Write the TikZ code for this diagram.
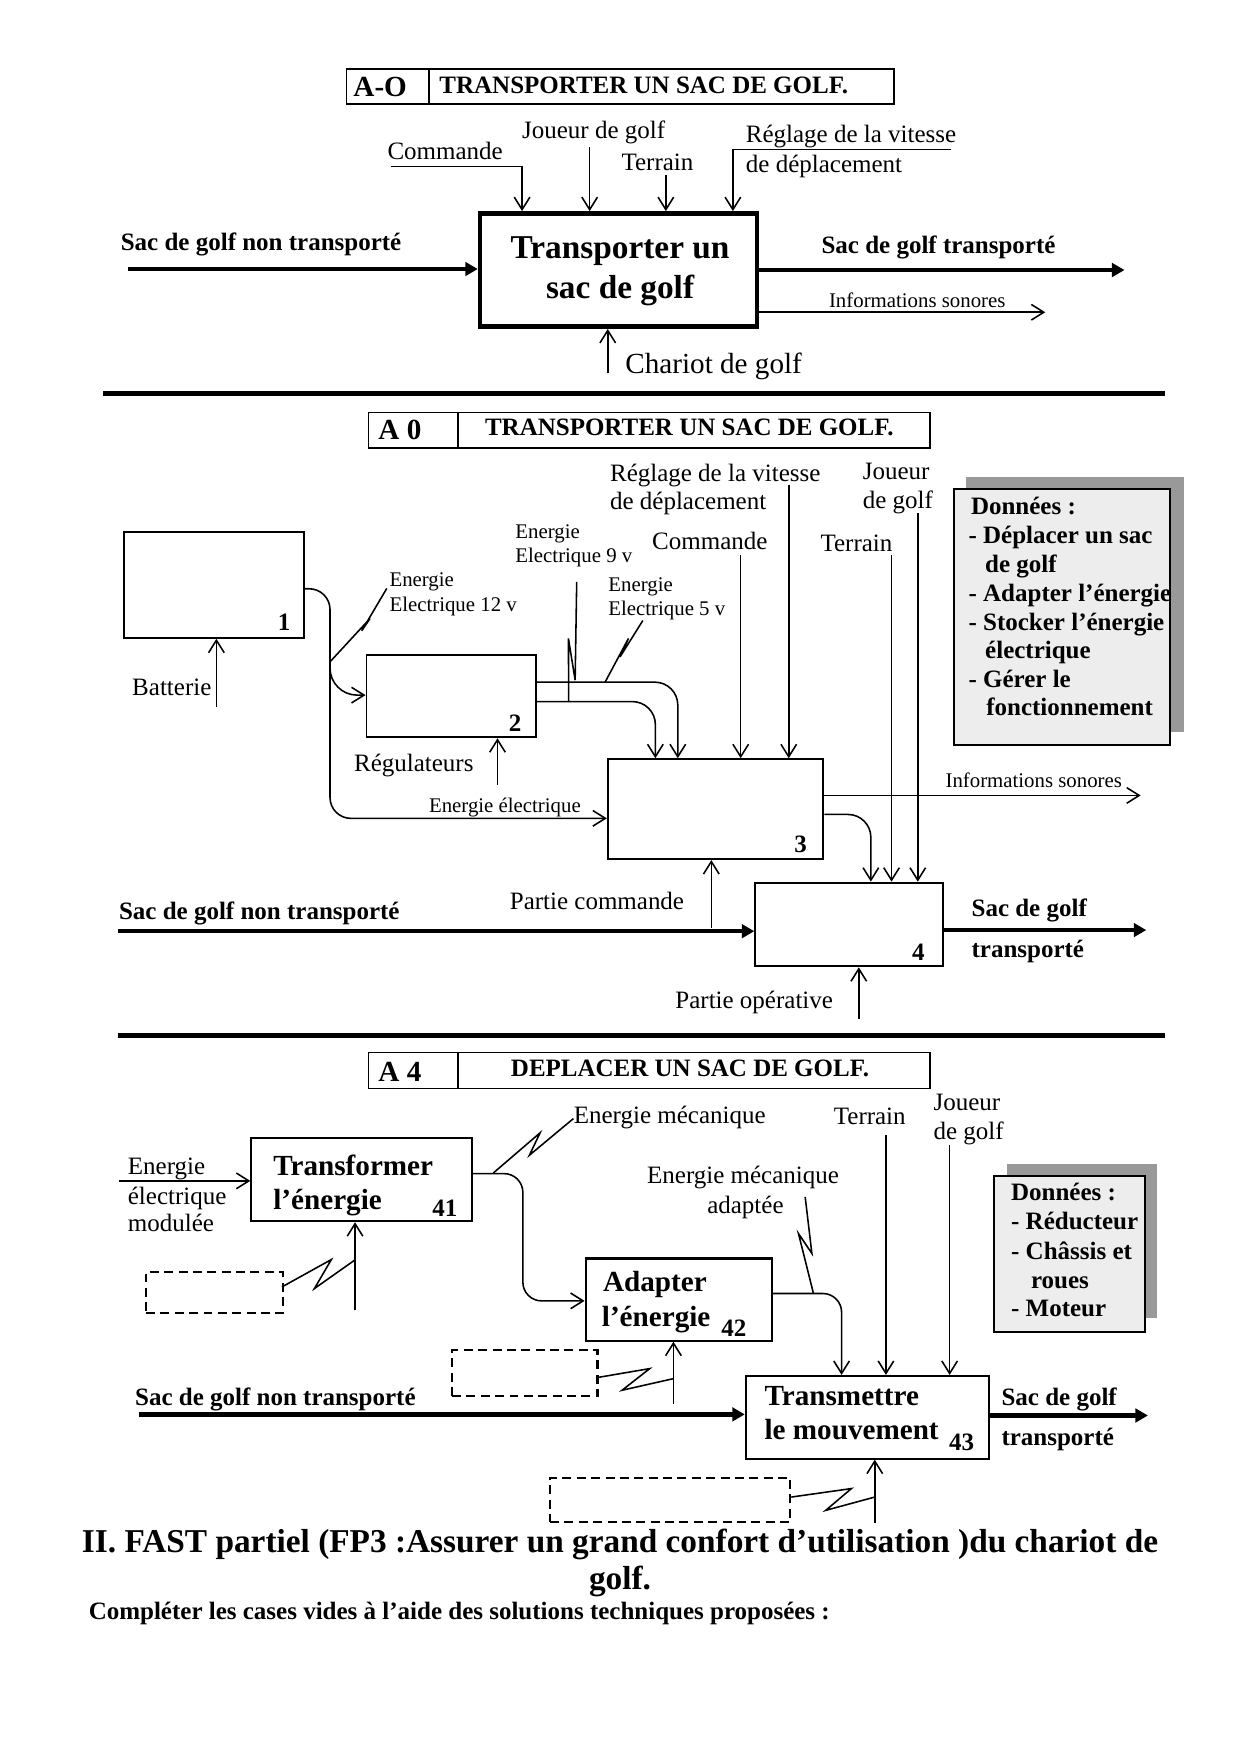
\documentclass[tikz,border=0pt]{standalone}
\usepackage{fontspec}
\setmainfont{Liberation Serif}
\usetikzlibrary{arrows.meta,fit,calc}
\begin{document}
\begin{tikzpicture}[x=0.5364pt,y=-0.5364pt,
 ln/.style={line width=0.75pt},
 arr/.style={line width=0.75pt,-{Straight Barb[length=6pt,width=7.5pt]}},
 big/.style={line width=2.2pt,-{Triangle[length=6pt,width=6.5pt]}},
 t12/.style={inner sep=0pt,anchor=base west,font=\fontsize{12}{13.6}\selectfont},
 b12/.style={t12,font=\fontsize{12}{13.6}\selectfont\bfseries},
 t10/.style={t12,font=\fontsize{10}{12}\selectfont},
 t14/.style={t12,font=\fontsize{14}{16}\selectfont},
 b14/.style={t12,font=\fontsize{14}{16}\selectfont\bfseries},
 b16/.style={t12,font=\fontsize{16}{18}\selectfont\bfseries},
 blk/.style={draw,line width=0.9pt,inner sep=0pt},
 blkb/.style={draw,line width=1pt,inner sep=0pt},
 cell/.style={draw,line width=0.75pt,inner sep=0pt},
 dbox/.style={draw,line width=1pt,dash pattern=on 4.3pt off 2.6pt,inner sep=0pt},
 hrule/.style={line width=2.3pt},
 donnees/.style={draw,line width=0.9pt,fill=black!7,inner sep=0pt}
]
\useasboundingbox (0,0) rectangle (1110,1570);

% ================= A-O =================
\node[cell, fit={(310,62) (384,93.1)}] (aoA) {};
\node[cell, fit={(384,62) (800.3,93.1)}] (aoB) {};
\node[b14] (aoAt) at (316,86.5) {A-O};
\node[b12] (aoBt) at (393,83.6) {TRANSPORTER UN SAC DE GOLF.};

\node[draw,line width=2.2pt,inner sep=0pt,fit={(429.7,191) (677.7,292.4)}] (ao) {};
\node[b16,anchor=base] (aoT1) at (555,231.5) {Transporter un};
\node[b16,anchor=base] (aoT2) at (555,267) {sac de golf};

\node[t12] (aoCmd) at (346.5,142.6) {Commande};
\coordinate (cmdS) at (349.8,149.2); \coordinate (cmdC) at (467.3,149.2);
\draw[arr] (cmdS) -- (cmdC) -- (cmdC |- ao.north);
\node[t12] (aoJo) at (467,123.8) {Joueur de golf};
\coordinate (joS) at (527.8,131.9); \draw[arr] (joS) -- (joS |- ao.north);
\node[t12] (aoTe) at (556,152.6) {Terrain};
\coordinate (teS) at (596,156.7); \draw[arr] (teS) -- (teS |- ao.north);
\node[t12] (aoRe1) at (667.3,127.9) {Réglage de la vitesse};
\node[t12] (aoRe2) at (667.3,154.2) {de déplacement};
\coordinate (reS) at (851.6,133.7); \coordinate (reC) at (656,133.7);
\draw[arr] (reS) -- (reC) -- (reC |- ao.north);

\node[b12] (aoInT) at (107.8,223.8) {Sac de golf non transporté};
\coordinate (aoIn) at (114.7,240.8); \draw[big] (aoIn) -- (aoIn -| ao.west);
\node[b12] (aoOutT) at (735,227.3) {Sac de golf transporté};
\coordinate (aoOut) at (1006.5,241.7); \draw[big] (aoOut -| ao.east) -- (aoOut);
\node[t10] (aoInfT) at (741.7,275) {Informations sonores};
\coordinate (aoInf) at (935.6,279.5); \draw[arr] (aoInf -| ao.east) -- (aoInf);
\coordinate (chS) at (544,334); \draw[arr] (chS) -- (chS |- ao.south);
\node[t14] (aoCh) at (559.4,334.6) {Chariot de golf};

\coordinate (r1a) at (92.4,352.1); \coordinate (r1b) at (1042.5,352.1);
\draw[hrule] (r1a) -- (r1b);

% ================= A0 =================
\node[cell, fit={(330,369.1) (409.9,400.8)}] (a0A) {};
\node[cell, fit={(409.9,369.1) (832.5,400.8)}] (a0B) {};
\node[b14] (a0At) at (338.4,393.3) {A 0};
\node[b12] (a0Bt) at (433.8,389.4) {TRANSPORTER UN SAC DE GOLF.};

\node[blk, fit={(110.6,476) (272,570.9)}] (b1) {};
\node[b12,anchor=base east] (n1) at (260.2,564.5) {1};
\node[t12] (bat) at (118,622.6) {Batterie};
\coordinate (baS) at (193.7,632.7); \draw[arr] (baS) -- (baS |- b1.south);

\node[blk, fit={(328,586.4) (480,660)}] (b2) {};
\node[b12,anchor=base] (n2) at (461,654.5) {2};
\node[t12] (reg) at (316.6,690.3) {Régulateurs};
\coordinate (rgS) at (445.3,702.8); \draw[arr] (rgS) -- (rgS |- b2.south);

\node[blk, fit={(544,679.5) (737,769)}] (b3) {};
\node[b12,anchor=base] (n3) at (716.6,763.4) {3};
\node[blk, fit={(676,790) (844,865)}] (b4) {};
\node[b12,anchor=base] (n4) at (822,860) {4};

% box 1 outputs
\coordinate (v1) at (295.4,527); \coordinate (b3in) at (540,732.5);
\draw[arr,rounded corners=10pt] (b1.east |- v1) -- (v1) -- (v1 |- b3in) -- (b3in -| b3.west);
\coordinate (brS) at (295.4,590); \coordinate (brC) at (295.4,622.2);
\draw[arr,rounded corners=13pt] (brS) -- (brC) -- (brC -| b2.west);
\node[t10] (eel) at (383.7,727.1) {Energie électrique};

% box 2 outputs
\coordinate (c5) at (606.7,610.6);
\draw[arr,rounded corners=11pt] (c5 -| b2.east) -- (c5) -- (c5 |- b3.north);
\coordinate (c9) at (586.6,628);
\draw[arr,rounded corners=11pt] (c9 -| b2.east) -- (c9) -- (c9 |- b3.north);

% lightning labels
\node[t10] (e12a) at (348.3,525.2) {Energie};
\node[t10] (e12b) at (348.3,547) {Electrique 12 v};
\coordinate (l12s) at (295.4,592.4); \coordinate (l12e) at (346.2,526.7);
\draw[ln] (l12s) -- (331.2,553.6) -- (323.8,564.6) -- (l12e);
\node[t10] (e9a) at (461,482.4) {Energie};
\node[t10] (e9b) at (461,503.3) {Electrique 9 v};
\coordinate (l9s) at (516.2,520.8); \coordinate (l9e) at (509,628);
\draw[ln] (l9s) -- (514.8,608.8) -- (508.8,571.5) -- (l9e);
\node[t10] (e5a) at (544.2,529.2) {Energie};
\node[t10] (e5b) at (544.2,551) {Electrique 5 v};
\coordinate (l5s) at (575.4,555.4); \coordinate (l5e) at (541.6,610.6);
\draw[ln] (l5s) -- (555,588) -- (562.5,571.5) -- (l5e);

% top inputs
\node[t12] (a0re1) at (545.7,430.7) {Réglage de la vitesse};
\node[t12] (a0re2) at (545.7,456.1) {de déplacement};
\coordinate (rgl) at (706,434); \draw[arr] (rgl) -- (rgl |- b3.north);
\node[t12] (a0cm) at (583.4,491.9) {Commande};
\coordinate (cm) at (663,497); \draw[arr] (cm) -- (cm |- b3.north);
\node[t12] (a0te) at (734.1,493.8) {Terrain};
\coordinate (tr) at (798,497); \draw[arr] (tr) -- (tr |- b4.north);
\node[t12] (a0jo1) at (771.9,429.2) {Joueur};
\node[t12] (a0jo2) at (771.9,455.2) {de golf};
\coordinate (jg) at (821.5,459.5); \draw[arr] (jg) -- (jg |- b4.north);

\node[t10] (a0inf) at (846,704.7) {Informations sonores};
\coordinate (inf) at (1021,712); \draw[arr] (inf -| b3.east) -- (inf);
\coordinate (c34) at (779.5,729);
\draw[arr,rounded corners=11pt] (c34 -| b3.east) -- (c34) -- (c34 |- b4.north);

\node[t12] (pcT) at (456,814.3) {Partie commande};
\coordinate (pc) at (636.7,831); \draw[arr] (pc) -- (pc |- b3.south);
\node[b12] (a0inT) at (106.2,823.1) {Sac de golf non transporté};
\coordinate (a0in) at (106,833.5); \draw[big] (a0in) -- (a0in -| b4.west);
\node[b12] (a0o1) at (869.3,820.2) {Sac de golf};
\node[b12] (a0o2) at (869.3,856.9) {transporté};
\coordinate (a0out) at (1026,832.5); \draw[big] (a0out -| b4.east) -- (a0out);
\node[t12] (poT) at (604.2,902.6) {Partie opérative};
\coordinate (po) at (768.7,912.5); \draw[arr] (po) -- (po |- b4.south);

% Donnees A0
\fill[black!40] (865,427) rectangle (1059.6,655);
\node[donnees, fit={(854,438) (1047.5,667)}] (d0) {};
\node[b12] (d0a) at (868.8,460.6) {Données :};
\node[b12] (d0b) at (866.6,486.9) {- Déplacer un sac};
\node[b12] (d0c) at (881.5,512.3) {de golf};
\node[b12] (d0d) at (866.6,538.2) {- Adapter l’énergie};
\node[b12] (d0e) at (866.6,564) {- Stocker l’énergie};
\node[b12] (d0f) at (881.5,589.4) {électrique};
\node[b12] (d0g) at (866.6,615.8) {- Gérer le};
\node[b12] (d0h) at (882.5,640.6) {fonctionnement};

\coordinate (r2a) at (105.2,926.6); \coordinate (r2b) at (1042.5,926.6);
\draw[hrule] (r2a) -- (r2b);

% ================= A4 =================
\node[cell, fit={(330,942.1) (410,974.3)}] (a4A) {};
\node[cell, fit={(410,942.1) (832.5,974.3)}] (a4B) {};
\node[b14] (a4At) at (338.4,968.3) {A 4};
\node[b12] (a4Bt) at (457,963.9) {DEPLACER UN SAC DE GOLF.};

\node[blkb, fit={(225,1019) (422.4,1093.1)}] (b41) {};
\node[b14] (b41a) at (244.3,1051.9) {Transformer};
\node[b14] (b41b) at (244.3,1082.8) {l’énergie};
\node[b12] (b41n) at (386.6,1088.7) {41};

\node[blkb, fit={(524.2,1126.5) (690.6,1200)}] (b42) {};
\node[b14] (b42a) at (539.5,1155.9) {Adapter};
\node[b14] (b42b) at (538.4,1187.1) {l’énergie};
\node[b12] (b42n) at (645.3,1196.2) {42};

\node[blkb, fit={(667.6,1231.6) (885,1305.6)}] (b43) {};
\node[b14] (b43a) at (684,1257.8) {Transmettre};
\node[b14] (b43b) at (684,1288.6) {le mouvement};
\node[b12] (b43n) at (849.2,1298.6) {43};

\node[t12] (eem1) at (114.1,1050.9) {Energie};
\node[t12] (eem2) at (114.1,1077.8) {électrique};
\node[t12] (eem3) at (114.1,1102.2) {modulée};
\coordinate (e41) at (106.5,1057); \draw[arr] (e41) -- (e41 -| b41.west);

\coordinate (c41) at (468,1050.5); \coordinate (c41b) at (468,1164.4);
\draw[arr,rounded corners=9pt] (c41 -| b41.east) -- (c41) -- (c41b) -- (c41b -| b42.west);
\node[t12] (emT) at (513.3,1005.6) {Energie mécanique};
\coordinate (lms) at (441.6,1049.9); \coordinate (lme) at (513.3,1001.2);
\draw[ln] (lms) -- (483.4,1014) -- (473.9,1034) -- (lme);

\node[t12] (emaT1) at (578.9,1058.9) {Energie mécanique};
\node[t12] (emaT2) at (632.7,1085.9) {adaptée};
\coordinate (las) at (720.7,1071.3); \coordinate (lae) at (728.1,1157.8);
\draw[ln] (las) -- (726.7,1122) -- (714.7,1104.1) -- (lae);
\coordinate (c42) at (753.3,1157.8);
\draw[arr,rounded corners=9pt] (c42 -| b42.east) -- (c42) -- (c42 |- b43.north);

\node[t12] (a4te) at (746,1006.2) {Terrain};
\coordinate (t4) at (793,1016); \draw[arr] (t4) -- (t4 |- b43.north);
\node[t12] (a4jo1) at (835.3,993.7) {Joueur};
\node[t12] (a4jo2) at (835.3,1020.1) {de golf};
\coordinate (j4) at (850,1025); \draw[arr] (j4) -- (j4 |- b43.north);

% Donnees A4
\fill[black!40] (901,1042) rectangle (1035.6,1180);
\node[donnees, fit={(890,1052.8) (1024.7,1192)}] (d4) {};
\node[b12] (d4a) at (904.7,1074.3) {Données :};
\node[b12] (d4b) at (904.7,1100.7) {- Réducteur};
\node[b12] (d4c) at (904.7,1127) {- Châssis et};
\node[b12] (d4d) at (922.5,1153) {roues};
\node[b12] (d4e) at (904.7,1178.3) {- Moteur};

\node[b12] (a4inT) at (120.6,1258.3) {Sac de golf non transporté};
\coordinate (a4in) at (124,1266); \draw[big] (a4in) -- (a4in -| b43.west);
\node[b12] (a4o1) at (896.1,1257.8) {Sac de golf};
\node[b12] (a4o2) at (896.1,1294.1) {transporté};
\coordinate (a4out) at (1027.5,1267); \draw[big] (a4out -| b43.east) -- (a4out);

% dashed boxes and mechanisms
\node[dbox, fit={(130.7,1138.5) (253,1175.5)}] (dd1) {};
\node[dbox, fit={(404.6,1208.6) (534.8,1249.8)}] (dd2) {};
\node[dbox, fit={(492.4,1322.9) (707.5,1362)}] (dd3) {};
\coordinate (m41) at (317.8,1172.8); \draw[arr] (m41) -- (m41 |- b41.south);
\coordinate (m42) at (602.8,1256.3); \draw[arr] (m42) -- (m42 |- b42.south);
\coordinate (m43) at (783,1363); \draw[arr] (m43) -- (m43 |- b43.south);
\coordinate (ld1s) at (252.4,1151.9); \coordinate (ld1e) at (317.8,1127.7);
\draw[ln] (ld1s) -- (296.6,1127.4) -- (281.4,1153.4) -- (ld1e);
\coordinate (ld2s) at (534.8,1233); \coordinate (ld2e) at (602.8,1234);
\draw[ln] (ld2s) -- (581.6,1225) -- (556.8,1244.4) -- (ld2e);
\coordinate (ld3s) at (708.3,1340); \coordinate (ld3e) at (783,1340);
\draw[ln] (ld3s) -- (762.1,1332.4) -- (739.1,1351.9) -- (ld3e);

% bottom text
\node[b16,anchor=base] (fast1) at (555,1389.2) {II. FAST partiel (FP3 :Assurer un grand confort d’utilisation )du chariot de};
\node[b16,anchor=base] (fast2) at (555,1423) {golf.};
\node[b12] (compl) at (79.1,1449.8) {Compléter les cases vides à l’aide des solutions techniques proposées :};
\end{tikzpicture}
\end{document}
